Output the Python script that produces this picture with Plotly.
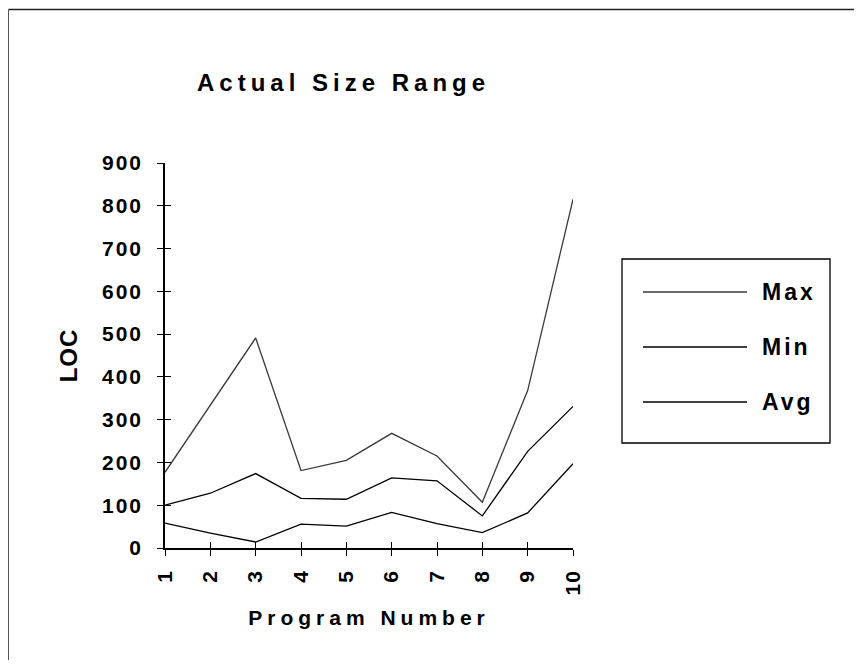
import plotly.graph_objects as go

# ---- data ----
programs = [1, 2, 3, 4, 5, 6, 7, 8, 9, 10]
program_labels = ["1", "2", "3", "4", "5", "6", "7", "8", "9", "10"]
max_loc = [177, 333, 491, 181, 205, 268, 215, 107, 368, 815]
min_loc = [58, 35, 14, 56, 51, 83, 57, 36, 82, 197]
avg_loc = [100, 128, 174, 116, 114, 164, 157, 75, 226, 331]
y_ticks = [0, 100, 200, 300, 400, 500, 600, 700, 800, 900]
y_tick_labels = ["0", "100", "200", "300", "400", "500", "600", "700", "800", "900"]
series_names = ["Max", "Min", "Avg"]

# ---- layout constants (page body has an 8px margin) ----
OFF = 8
W, H = 862 - 2 * OFF, 668 - 2 * OFF
PLOT_X0, PLOT_X1 = 165, 573   # page pixels
PLOT_Y0, PLOT_Y1 = 163, 548
L = PLOT_X0 - OFF
T = PLOT_Y0 - OFF
R = W - (PLOT_X1 - OFF)
B = H - (PLOT_Y1 - OFF)
PW, PH = W - L - R, H - T - B


def px(xpage):
    return (xpage - OFF - L) / PW


def py(ypage):
    return (H - B - (ypage - OFF)) / PH


FONT = "Arial, 'Liberation Sans', sans-serif"
line_col = "black"


def spaced(text, sp):
    return "<span style='letter-spacing:%dpx'>%s</span>" % (sp, text)


fig = go.Figure()
series = [max_loc, min_loc, avg_loc]
colors = ["#3a3a3a", "black", "black"]
for name, vals, col in zip(series_names, series, colors):
    fig.add_trace(go.Scatter(
        x=programs, y=vals, name=name, mode="lines",
        line=dict(color=col, width=1.3), cliponaxis=False))

# invisible trace on overlay axes (for crossing tick marks)
fig.add_trace(go.Scatter(x=[programs[0]], y=[y_ticks[0]], xaxis="x2", yaxis="y2",
                         mode="markers", marker=dict(opacity=0), showlegend=False,
                         hoverinfo="skip"))

shapes = []
# outer scan border (top & left)
shapes.append(dict(type="line", xref="paper", yref="paper",
                   x0=px(8.5), x1=px(862), y0=py(9.5), y1=py(9.5),
                   line=dict(color="#222", width=1.5)))
shapes.append(dict(type="line", xref="paper", yref="paper",
                   x0=px(8.5), x1=px(8.5), y0=py(9.5), y1=py(668),
                   line=dict(color="#555", width=1)))
# legend box
shapes.append(dict(type="rect", xref="paper", yref="paper",
                   x0=px(622), x1=px(830), y0=py(443), y1=py(259),
                   line=dict(color="black", width=1.3), fillcolor="rgba(0,0,0,0)"))
legend_rows = [292, 347, 402]
annotations = []
for name, row, col in zip(series_names, legend_rows, colors):
    shapes.append(dict(type="line", xref="paper", yref="paper",
                       x0=px(643), x1=px(747), y0=py(row), y1=py(row),
                       line=dict(color=col, width=1.3)))
    annotations.append(dict(
        xref="paper", yref="paper", x=px(760), y=py(row), xanchor="left", yanchor="middle",
        text=spaced(name, 3), showarrow=False,
        font=dict(family=FONT, size=23, color="black", weight="bold")))

axis_common = dict(showgrid=False, zeroline=False, showline=True, linecolor=line_col,
                   linewidth=1.5, ticks="outside", ticklen=6, tickwidth=1.3,
                   tickcolor=line_col,
                   tickfont=dict(family=FONT, size=21, color="black", weight="bold"))

fig.update_layout(
    width=W, height=H,
    margin=dict(l=L, r=R, t=T, b=B),
    paper_bgcolor="white", plot_bgcolor="white",
    showlegend=False,
    font=dict(family=FONT, color="black"),
    title=dict(text=spaced("Actual Size Range", 5),
               xref="paper", x=px(197), xanchor="left",
               yref="container", y=1 - (83 - OFF) / H, yanchor="middle",
               font=dict(family=FONT, size=24, color="black", weight="bold")),
    xaxis=dict(range=[1, 10], tickmode="array", tickvals=programs,
               ticktext=[spaced(t, 1) for t in program_labels],
               tickangle=-90, ticklabelstandoff=6,
               title=dict(text=spaced("Program Number", 5), standoff=16,
                          font=dict(family=FONT, size=21, color="black", weight="bold")),
               **axis_common),
    yaxis=dict(range=[0, 900], tickmode="array", tickvals=y_ticks,
               ticktext=[spaced(t, 2) for t in y_tick_labels],
               ticklabelstandoff=10,
               title=dict(text=spaced("LOC", 1), standoff=18,
                          font=dict(family=FONT, size=24, color="black", weight="bold")),
               **axis_common),
    xaxis2=dict(overlaying="x", anchor="y", range=[1, 10], tickmode="array",
                tickvals=programs, ticks="inside", ticklen=6, tickwidth=1.3,
                tickcolor=line_col, showticklabels=False, showgrid=False,
                zeroline=False, showline=False, side="bottom"),
    yaxis2=dict(overlaying="y", anchor="x", range=[0, 900], tickmode="array",
                tickvals=y_ticks, ticks="inside", ticklen=6, tickwidth=1.3,
                tickcolor=line_col, showticklabels=False, showgrid=False,
                zeroline=False, showline=False, side="left"),
    shapes=shapes,
    annotations=annotations,
)

fig.write_html("out.html")
